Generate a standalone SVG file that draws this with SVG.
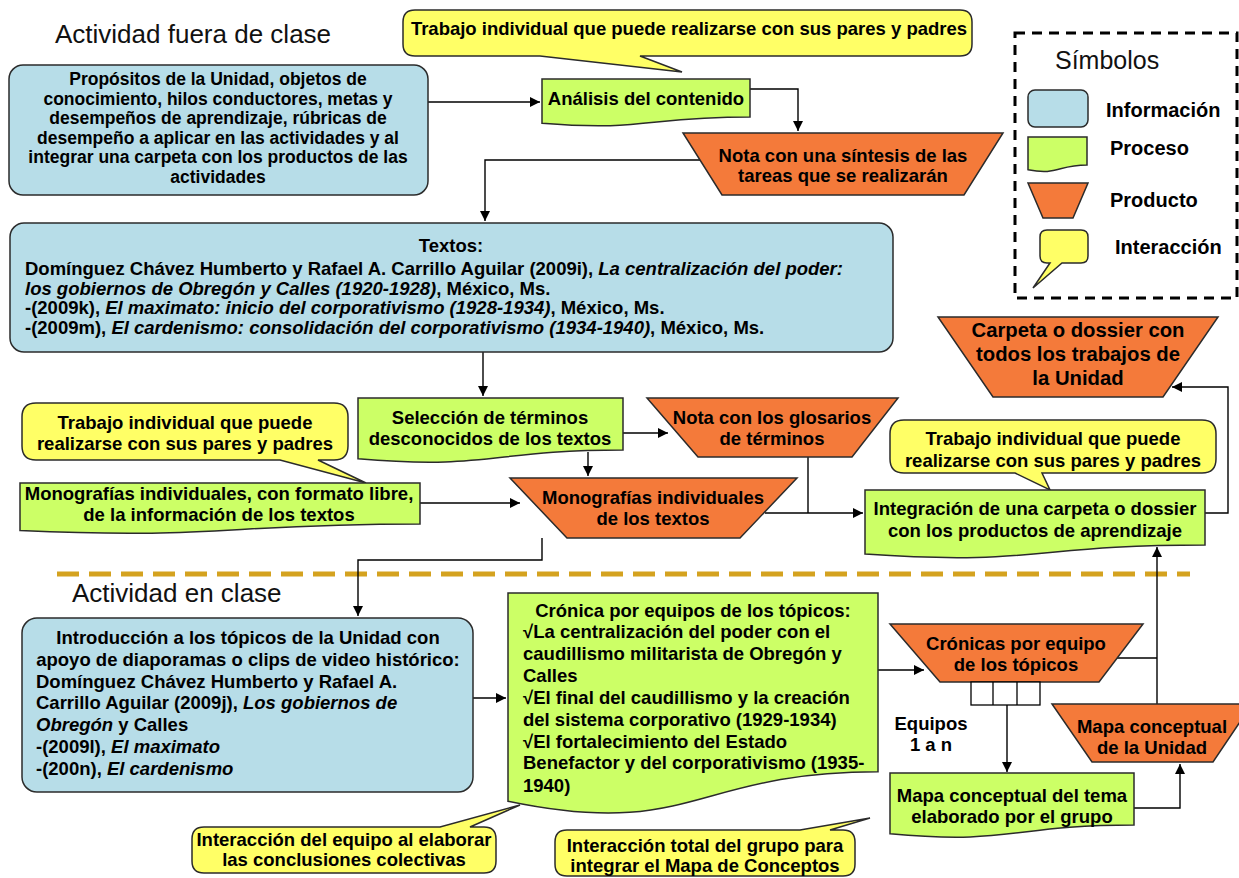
<svg xmlns="http://www.w3.org/2000/svg" width="1239" height="878" viewBox="0 0 1239 878">
<defs>
<style>
.t{font-family:"Liberation Sans",Arial,sans-serif;font-weight:bold;font-size:18.5px;fill:#000}
.c{text-anchor:middle}
.i{font-style:italic}
.h{font-family:"Liberation Sans",Arial,sans-serif;font-size:26px;fill:#111}
.info{fill:#B7DDE8;stroke:#2b2b2b;stroke-width:1.5}
.proc{fill:#CCFF66;stroke:#2b2b2b;stroke-width:1.5}
.prod{fill:#F47A3A;stroke:#2b2b2b;stroke-width:1.5}
.call{fill:#FFFF66;stroke:#2b2b2b;stroke-width:1.5}
.conn{fill:none;stroke:#000;stroke-width:1.4}
.arr{marker-end:url(#ah)}
.n1{font-size:17.5px}
</style>
<marker id="ah" viewBox="0 0 10 10" refX="10" refY="5" markerWidth="10" markerHeight="10" markerUnits="userSpaceOnUse" orient="auto">
<path d="M0,0 L10,5 L0,10 Z" fill="#000"/>
</marker>
</defs>
<rect width="1239" height="878" fill="#fff"/>

<text class="h" x="55" y="42.5">Actividad fuera de clase</text>
<text class="h" x="72" y="602">Actividad en clase</text>
<line x1="57" y1="574" x2="1190" y2="574" stroke="#D4A21F" stroke-width="5" stroke-dasharray="22 10"/>

<g id="connectors">
<path class="conn arr" d="M428,102 H540"/>
<path class="conn arr" d="M750,89 H798 V131"/>
<path class="conn arr" d="M700,160 H485 V221"/>
<path class="conn arr" d="M483,352 V396"/>
<path class="conn arr" d="M623,433 H668"/>
<path class="conn arr" d="M588,452 V476"/>
<path class="conn arr" d="M420,503 H520"/>
<path class="conn" d="M808,457 V513"/>
<path class="conn arr" d="M765,513 H863"/>
<path class="conn arr" d="M542,538 V560 H358 V616"/>
<path class="conn arr" d="M1205,513 H1228 V387 H1172"/>
<path class="conn arr" d="M473,698 H506"/>
<path class="conn arr" d="M878,670 H924"/>
<path class="conn" d="M1117,658 H1157"/>
<path class="conn arr" d="M1157,704 V547"/>
<path class="conn arr" d="M1007,705 V772"/>
<path class="conn arr" d="M1134,808 H1180 V764"/>
</g>

<g id="legend">
<rect x="1015" y="33" width="222" height="265" fill="none" stroke="#000" stroke-width="3" stroke-dasharray="10 7"/>
<text class="h" x="1055" y="69" style="font-size:25px">Símbolos</text>
<rect class="info" x="1028" y="90" width="60" height="37" rx="7"/>
<path class="proc" d="M1028,137 H1087 V165 C1057.5,165 1057.5,175.7 1028,169.7 Z"/>
<polygon class="prod" points="1028,183 1088,183 1073,218 1043,218"/>
<path class="call" d="M1047,230 H1081 Q1088,230 1088,237 V256 Q1088,263 1081,263 H1062 L1033,288 L1050,263 H1047 Q1040,263 1040,256 V237 Q1040,230 1047,230 Z"/>
<text class="t" x="1106" y="117" style="font-size:20px">Información</text>
<text class="t" x="1110" y="155" style="font-size:20px">Proceso</text>
<text class="t" x="1110" y="207" style="font-size:20px">Producto</text>
<text class="t" x="1115" y="254" style="font-size:20px">Interacción</text>
</g>

<g id="callout-top">
<path class="call" d="M415,10 H960 Q972,10 972,22 V44 Q972,56 960,56 H640 L682,72 L540,56 H415 Q403,56 403,44 V22 Q403,10 415,10 Z"/>
<text class="t c" x="689" y="34.5">Trabajo individual que puede realizarse con sus pares y padres</text>
</g>

<g id="proposito">
<rect class="info" x="9" y="65" width="419" height="130" rx="14"/>
<text class="t c n1" x="218" y="85">Propósitos de la Unidad, objetos de</text>
<text class="t c n1" x="218" y="104.5">conocimiento, hilos conductores, metas y</text>
<text class="t c n1" x="218" y="124">desempeños de aprendizaje, rúbricas de</text>
<text class="t c n1" x="218" y="143.5">desempeño a aplicar en las actividades y al</text>
<text class="t c n1" x="218" y="163">integrar una carpeta con los productos de las</text>
<text class="t c n1" x="218" y="182.5">actividades</text>
</g>

<g id="analisis">
<path class="proc" d="M542,79 H750 V117 C646,117 646,131.5 542,123.3 Z"/>
<text class="t c" x="646" y="104.5">Análisis del contenido</text>
</g>

<g id="nota-sintesis">
<polygon class="prod" points="683,133 1003,133 964,195 722,195"/>
<text class="t c" x="843" y="161.5">Nota con una síntesis de las</text>
<text class="t c" x="843" y="181.5">tareas que se realizarán</text>
</g>

<g id="textos">
<rect class="info" x="10" y="223" width="883" height="129" rx="14"/>
<text class="t c" x="451" y="251.5">Textos:</text>
<text class="t" x="25" y="274.5">Domínguez Chávez Humberto y Rafael A. Carrillo Aguilar (2009i), <tspan class="i">La centralización del poder:</tspan></text>
<text class="t" x="25" y="294.5"><tspan class="i">los gobiernos de Obregón y Calles (1920-1928)</tspan>, México, Ms.</text>
<text class="t" x="25" y="314">-(2009k), <tspan class="i">El maximato: inicio del corporativismo (1928-1934)</tspan>, México, Ms.</text>
<text class="t" x="25" y="334">-(2009m), <tspan class="i">El cardenismo: consolidación del corporativismo (1934-1940)</tspan>, México, Ms.</text>
</g>

<g id="callout-left">
<path class="call" d="M36,403 H334 Q348,403 348,417 V446 Q348,460 334,460 H318 L366,483 L280,460 H36 Q22,460 22,446 V417 Q22,403 36,403 Z"/>
<text class="t c" x="185" y="428.5">Trabajo individual que puede</text>
<text class="t c" x="185" y="449.5">realizarse con sus pares y padres</text>
</g>

<g id="seleccion">
<path class="proc" d="M358,398 H623 V450 C490.5,450 490.5,470 358,458.7 Z"/>
<text class="t c" x="490" y="423.5">Selección de términos</text>
<text class="t c" x="490" y="444.5">desconocidos de los textos</text>
</g>

<g id="nota-glosarios">
<polygon class="prod" points="647,398 898,398 852,457 698,457"/>
<text class="t c" x="772" y="423.5">Nota con los glosarios</text>
<text class="t c" x="772" y="444.5">de términos</text>
</g>

<g id="monografias-proceso">
<path class="proc" d="M20,483 H420 V524 C220,524 220,539.5 20,530.6 Z"/>
<text class="t c" x="219" y="499.5">Monografías individuales, con formato libre,</text>
<text class="t c" x="219" y="520.5">de la información de los textos</text>
</g>

<g id="monografias-producto">
<polygon class="prod" points="510,478 797,478 740,538 567,538"/>
<text class="t c" x="653" y="503.5">Monografías individuales</text>
<text class="t c" x="653" y="524.5">de los textos</text>
</g>

<g id="carpeta">
<polygon class="prod" points="938,317 1218,317 1163,397 993,397"/>
<text class="t c" x="1078" y="336.5" style="font-size:20.3px">Carpeta o dossier con</text>
<text class="t c" x="1078" y="360.5" style="font-size:20.3px">todos los trabajos de</text>
<text class="t c" x="1078" y="384.5" style="font-size:20.3px">la Unidad</text>
</g>

<g id="callout-right">
<path class="call" d="M904,420 H1202 Q1216,420 1216,434 V459 Q1216,473 1202,473 H1042 L1050,490 L1015,473 H904 Q890,473 890,459 V434 Q890,420 904,420 Z"/>
<text class="t c" x="1053" y="444.5">Trabajo individual que puede</text>
<text class="t c" x="1053" y="466.5">realizarse con sus pares y padres</text>
</g>

<g id="integracion">
<path class="proc" d="M865,490 H1205 V545 C1035,545 1035,565.9 865,554.1 Z"/>
<text class="t c" x="1035" y="514.5">Integración de una carpeta o dossier</text>
<text class="t c" x="1035" y="536.5">con los productos de aprendizaje</text>
</g>

<g id="introduccion">
<rect class="info" x="22" y="618" width="451" height="174" rx="15"/>
<text class="t c" x="248" y="643.5">Introducción a los tópicos de la Unidad con</text>
<text class="t c" x="248" y="665.5">apoyo de diaporamas o clips de video histórico:</text>
<text class="t" x="36" y="687.5">Domínguez Chávez Humberto y Rafael A.</text>
<text class="t" x="36" y="708.5">Carrillo Aguilar (2009j), <tspan class="i">Los gobiernos de</tspan></text>
<text class="t" x="36" y="730.5"><tspan class="i">Obregón</tspan> y Calles</text>
<text class="t" x="36" y="752.5">-(2009l), <tspan class="i">El maximato</tspan></text>
<text class="t" x="36" y="774.5">-(200n), <tspan class="i">El cardenismo</tspan></text>
</g>

<g id="cronica">
<path class="proc" d="M508,593 H878 V771.8 C693,771.8 693,839.9 508,801.3 Z"/>
<text class="t c" x="693" y="616.5">Crónica por equipos de los tópicos:</text>
<text class="t" x="523" y="637.5">√La centralización del poder con el</text>
<text class="t" x="523" y="659.5">caudillismo militarista de Obregón y</text>
<text class="t" x="523" y="681.5">Calles</text>
<text class="t" x="523" y="703.5">√El final del caudillismo y la creación</text>
<text class="t" x="523" y="725.5">del sistema corporativo (1929-1934)</text>
<text class="t" x="523" y="747.5">√El fortalecimiento del Estado</text>
<text class="t" x="523" y="768.5">Benefactor y del corporativismo (1935-</text>
<text class="t" x="523" y="791.5">1940)</text>
</g>

<g id="cronicas-producto">
<polygon class="prod" points="890,624 1143,624 1099,682 940,682"/>
<text class="t c" x="1016" y="649.5">Crónicas por equipo</text>
<text class="t c" x="1016" y="670.5">de los tópicos</text>
</g>

<g id="equipos">
<rect x="971" y="682" width="69" height="23" fill="#fff" stroke="#000" stroke-width="1.3"/>
<line x1="993" y1="682" x2="993" y2="705" stroke="#000" stroke-width="1.3"/>
<line x1="1017" y1="682" x2="1017" y2="705" stroke="#000" stroke-width="1.3"/>
<text class="t c" x="931" y="729.5">Equipos</text>
<text class="t c" x="931" y="750.5">1 a n</text>
</g>

<g id="mapa-unidad">
<polygon class="prod" points="1052,704 1252,704 1213,762 1092,762"/>
<text class="t c" x="1152" y="732.5">Mapa conceptual</text>
<text class="t c" x="1152" y="753.5">de la Unidad</text>
</g>

<g id="mapa-tema">
<path class="proc" d="M890,773 H1134 V825 C1012,825 1012,845 890,833.7 Z"/>
<text class="t c" x="1012" y="801.5">Mapa conceptual del tema</text>
<text class="t c" x="1012" y="822.5">elaborado por el grupo</text>
</g>

<g id="callout-equipo">
<path class="call" d="M204,827 H440 L520,805 L470,827 H484 Q496,827 496,839 V861 Q496,873 484,873 H204 Q192,873 192,861 V839 Q192,827 204,827 Z"/>
<text class="t c" x="344" y="845.5">Interacción del equipo al elaborar</text>
<text class="t c" x="344" y="865.5">las conclusiones colectivas</text>
</g>

<g id="callout-grupo">
<path class="call" d="M567,830 H800 L870,818 L830,830 H843 Q855,830 855,842 V864 Q855,876 843,876 H567 Q555,876 555,864 V842 Q555,830 567,830 Z"/>
<text class="t c" x="705" y="851.5">Interacción total del grupo para</text>
<text class="t c" x="705" y="871.5">integrar el Mapa de Conceptos</text>
</g>
</svg>
